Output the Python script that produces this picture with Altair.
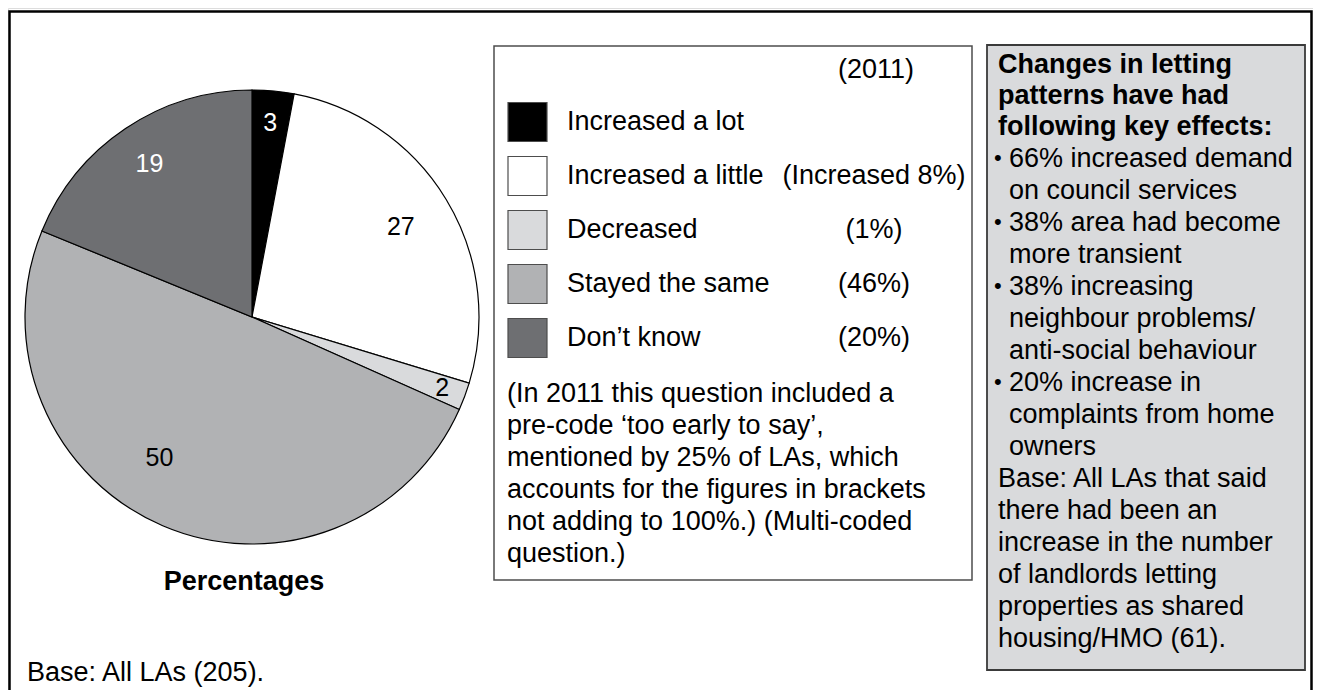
import altair as alt
import pandas as pd

# ---- data ----
categories = ["Increased a lot", "Increased a little", "Decreased", "Stayed the same", "Don\u2019t know"]
values = [3, 27, 2, 50, 19]
values_2011 = ["", "(Increased 8%)", "(1%)", "(46%)", "(20%)"]
colors = ["#000000", "#ffffff", "#d9dadc", "#b1b2b4", "#6e6f72"]
label_colors = ["#ffffff", "#000000", "#000000", "#000000", "#ffffff"]
label_radius = [195, 174, 203, 169, 184]
shift_label = [False, False, False, True, False]

note_lines = [
    "(In 2011 this question included a",
    "pre-code \u2018too early to say\u2019,",
    "mentioned by 25% of LAs, which",
    "accounts for the figures in brackets",
    "not adding to 100%.) (Multi-coded",
    "question.)",
]
box_title = ["Changes in letting", "patterns have had", "following key effects:"]
bullet_items = [
    ["66% increased demand", "on council services"],
    ["38% area had become", "more transient"],
    ["38% increasing", "neighbour problems/", "anti-social behaviour"],
    ["20% increase in", "complaints from home", "owners"],
]
base_lines = [
    "Base: All LAs that said",
    "there had been an",
    "increase in the number",
    "of landlords letting",
    "properties as shared",
    "housing/HMO (61).",
]

W, H = 1305, 682
FONT = "Liberation Sans"
FS = 27
LH = 32
CX, CY, R = 244, 309, 227
TOTAL = sum(values)

pie_df = pd.DataFrame({
    "category": categories,
    "value": values,
    "order": list(range(len(categories))),
    "label": [str(v) for v in values],
    "tcolor": label_colors,
    "lr": label_radius,
    "shift": shift_label,
})
leg_df = pd.DataFrame({
    "category": categories,
    "row": list(range(len(categories))),
    "v2011": values_2011,
})
one = pd.DataFrame({"a": [0]})

color_scale = alt.Scale(domain=categories, range=colors)
theta_scale = alt.Scale(domain=[0, TOTAL])

# ---- frames ----
frame = alt.Chart(one).mark_rect(fill="white", stroke="#000000", strokeWidth=2.5).encode(
    x=alt.value(1.5), x2=alt.value(1303.5), y=alt.value(3.5), y2=alt.value(H + 20)
)
legend_box = alt.Chart(one).mark_rect(fill="white", stroke="#4d4d4d", strokeWidth=1.5).encode(
    x=alt.value(486), x2=alt.value(964), y=alt.value(38), y2=alt.value(572)
)
right_box = alt.Chart(one).mark_rect(fill="#d9dadc", stroke="#3a3a3a", strokeWidth=1.8).encode(
    x=alt.value(979), x2=alt.value(1297), y=alt.value(37), y2=alt.value(662)
)

# ---- pie ----
arcs = alt.Chart(pie_df).mark_arc(radius=R, stroke="#000000", strokeWidth=1.2).encode(
    theta=alt.Theta("value:Q", stack=True, scale=theta_scale),
    order=alt.Order("order:Q"),
    color=alt.Color("category:N", scale=color_scale, legend=None),
    x=alt.value(CX), y=alt.value(CY),
)

lab_base = alt.Chart(pie_df).transform_window(
    cum="sum(value)", sort=[alt.SortField("order")]
).transform_calculate(mid="datum.cum - datum.value / 2")

labels = lab_base.transform_filter("!datum.shift").mark_text(
    font=FONT, fontSize=25, baseline="middle", align="center"
).encode(
    theta=alt.Theta("mid:Q", scale=theta_scale),
    radius=alt.Radius("lr:Q", scale=None),
    text="label:N",
    fill=alt.Fill("tcolor:N", scale=None),
    x=alt.value(CX), y=alt.value(CY),
)
labels_shift = lab_base.transform_filter("datum.shift").mark_text(
    font=FONT, fontSize=25, baseline="middle", align="center", dx=-26, dy=-14
).encode(
    theta=alt.Theta("mid:Q", scale=theta_scale),
    radius=alt.Radius("lr:Q", scale=None),
    text="label:N",
    fill=alt.Fill("tcolor:N", scale=None),
    x=alt.value(CX), y=alt.value(CY),
)

pct_title = alt.Chart(one).mark_text(
    text="Percentages", font=FONT, fontSize=FS, fontWeight="bold", align="center", baseline="middle", color="#000"
).encode(x=alt.value(236), y=alt.value(574))
base_note = alt.Chart(one).mark_text(
    text="Base: All LAs (205).", font=FONT, fontSize=FS, align="left", baseline="middle", color="#000"
).encode(x=alt.value(19), y=alt.value(665))

# ---- legend ----
leg_y = alt.Y("row:O", scale=alt.Scale(type="point", domain=list(range(len(categories))), range=[114, 330], padding=0), axis=None)
swatches = alt.Chart(leg_df).mark_square(size=1521, opacity=1, stroke="#4d4d4d", strokeWidth=1.2).encode(
    x=alt.value(519.5), y=leg_y,
    color=alt.Color("category:N", scale=color_scale, legend=None),
)
leg_labels = alt.Chart(leg_df).mark_text(font=FONT, fontSize=FS, align="left", baseline="middle", color="#000").encode(
    x=alt.value(559), y=leg_y, text="category:N"
)
leg_2011 = alt.Chart(leg_df).mark_text(font=FONT, fontSize=FS, align="center", baseline="middle", color="#000").encode(
    x=alt.value(866), y=leg_y, text="v2011:N"
)
head_2011 = alt.Chart(one).mark_text(
    text="(2011)", font=FONT, fontSize=FS, align="center", baseline="middle", color="#000"
).encode(x=alt.value(868), y=alt.value(62))
note = alt.Chart(one).mark_text(
    text=note_lines, font=FONT, fontSize=FS, align="left", baseline="top", lineHeight=LH, color="#000"
).encode(x=alt.value(499), y=alt.value(373))

# ---- right box text ----
box_layers = [alt.Chart(one).mark_text(
    text=box_title, font=FONT, fontSize=FS, fontWeight="bold", align="left", baseline="top", lineHeight=31, color="#000"
).encode(x=alt.value(990), y=alt.value(44))]

y0 = 138
for item in bullet_items:
    box_layers.append(alt.Chart(one).mark_text(
        text="\u2022", font=FONT, fontSize=22, align="left", baseline="top", color="#000"
    ).encode(x=alt.value(986), y=alt.value(y0 + 2)))
    box_layers.append(alt.Chart(one).mark_text(
        text=item, font=FONT, fontSize=FS, align="left", baseline="top", lineHeight=LH, color="#000"
    ).encode(x=alt.value(1001), y=alt.value(y0)))
    y0 += LH * len(item)

box_layers.append(alt.Chart(one).mark_text(
    text=base_lines, font=FONT, fontSize=FS, align="left", baseline="top", lineHeight=LH, color="#000"
).encode(x=alt.value(990), y=alt.value(y0)))

chart = alt.layer(
    frame, legend_box, right_box, arcs, labels, labels_shift, pct_title, base_note,
    swatches, leg_labels, leg_2011, head_2011, note, *box_layers,
).properties(
    width=W, height=H, autosize=alt.AutoSizeParams(type="none"), padding=0
).configure_view(strokeWidth=0).configure(background="white")

chart.save("out.html", embed_options={"renderer": "svg", "actions": False})
